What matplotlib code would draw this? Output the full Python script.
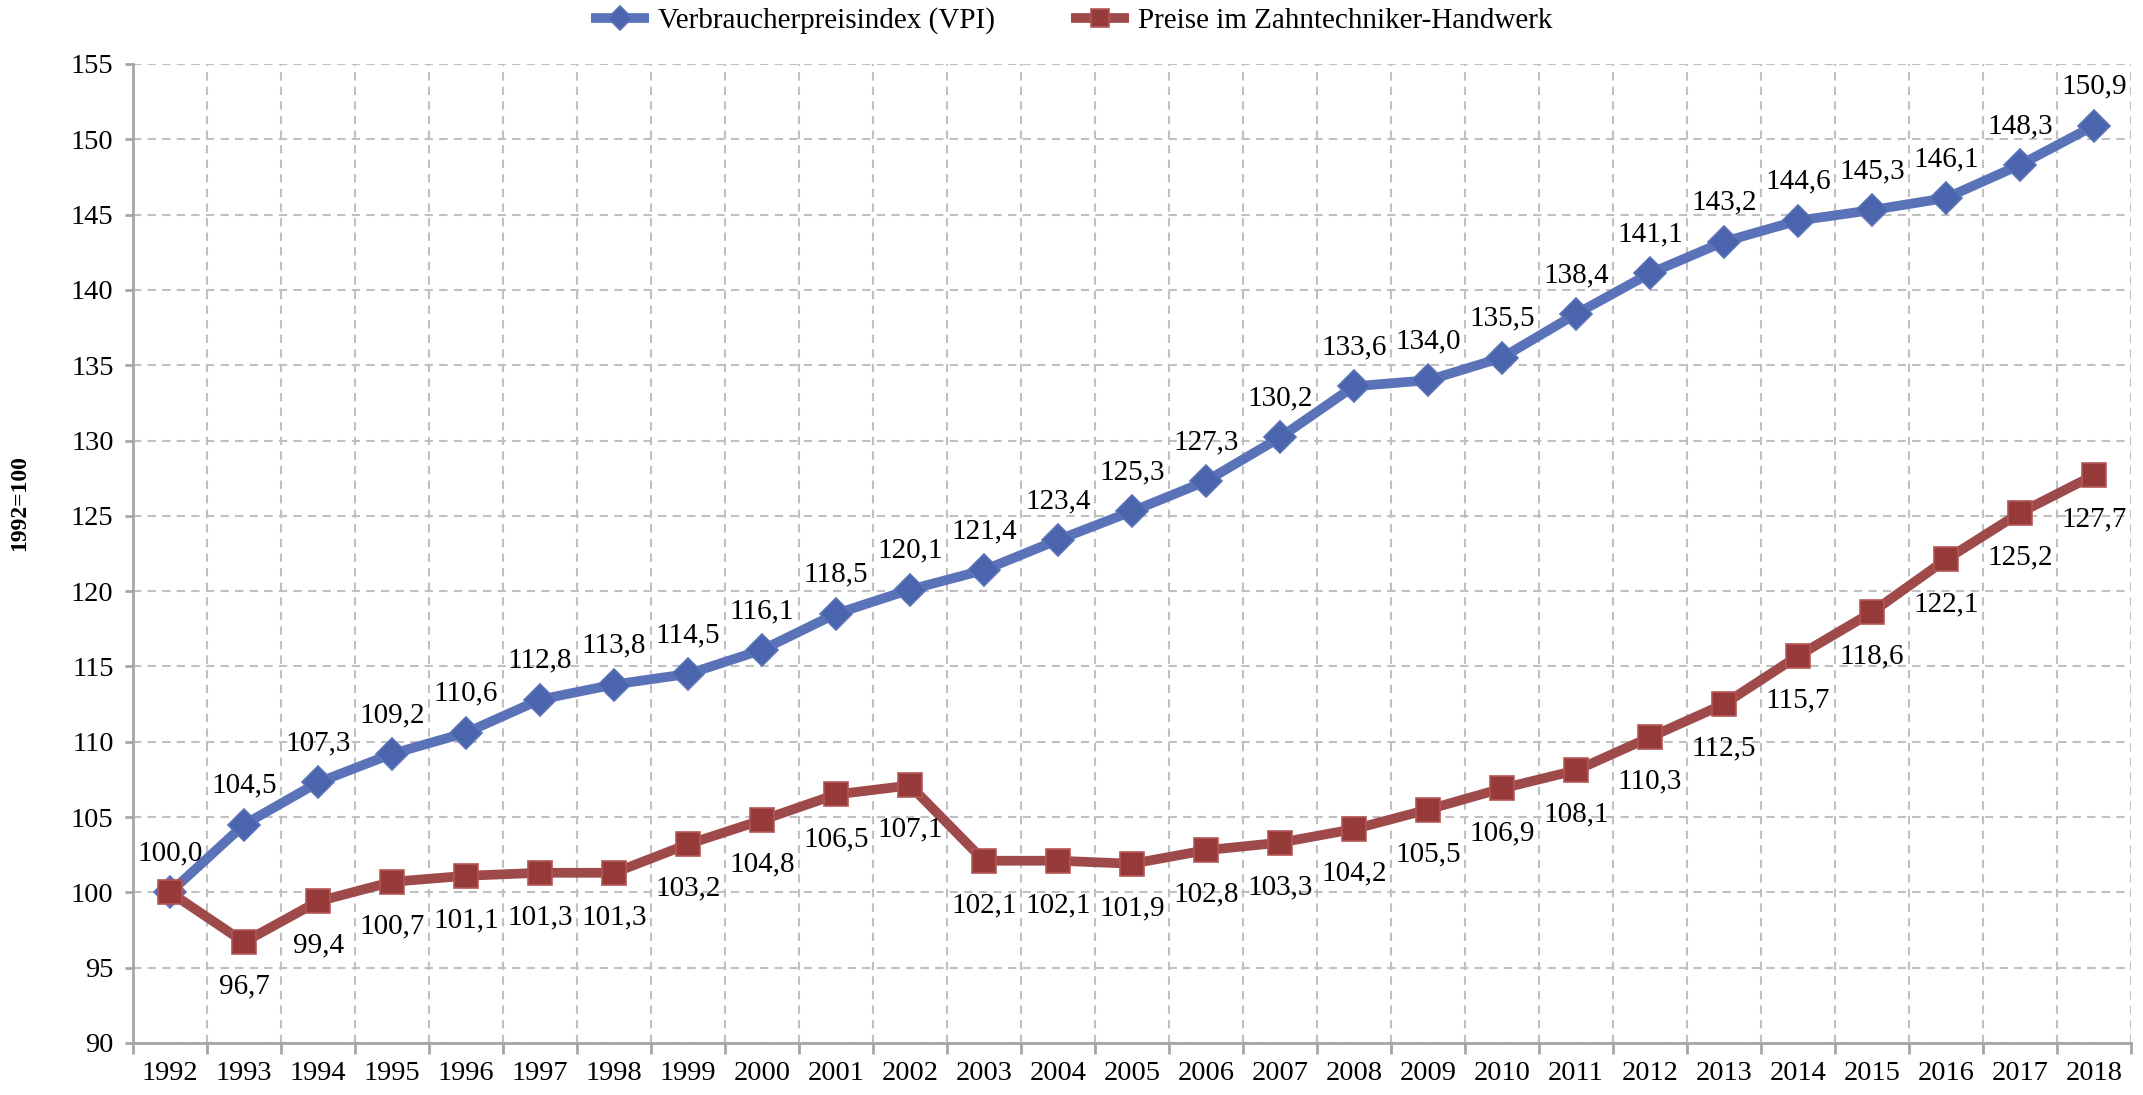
import matplotlib
matplotlib.use("Agg")
import matplotlib.pyplot as plt
import numpy as np

years = [str(y) for y in range(1992, 2019)]
vpi = [100.0, 104.5, 107.3, 109.2, 110.6, 112.8, 113.8, 114.5, 116.1, 118.5, 120.1,
       121.4, 123.4, 125.3, 127.3, 130.2, 133.6, 134.0, 135.5, 138.4, 141.1, 143.2,
       144.6, 145.3, 146.1, 148.3, 150.9]
zahn = [100.0, 96.7, 99.4, 100.7, 101.1, 101.3, 101.3, 103.2, 104.8, 106.5, 107.1,
        102.1, 102.1, 101.9, 102.8, 103.3, 104.2, 105.5, 106.9, 108.1, 110.3, 112.5,
        115.7, 118.6, 122.1, 125.2, 127.7]
series_names = ["Verbraucherpreisindex (VPI)", "Preise im Zahntechniker-Handwerk"]
y_ticks = list(range(90, 156, 5))
y_label = "1992=100"

plt.rcParams['font.family'] = ['Liberation Serif', 'DejaVu Serif']

fig = plt.figure(figsize=(21.43, 10.95), dpi=100)
ax = fig.add_axes([0.0621, 0.0475, 0.9323, 0.8941])

x = np.arange(len(years))
blue_line = '#5A72B8'
blue_mark = '#4A64AE'
red_line = '#9E4A4A'
red_mark = '#973A3A'

ax.plot(x, vpi, color=blue_line, lw=7, marker='D', ms=16, mfc=blue_mark,
        mec='#5A72B8', mew=1.2, label=series_names[0], zorder=3, solid_capstyle='butt')
ax.plot(x, zahn, color=red_line, lw=7, marker='s', ms=17, mfc=red_mark,
        mec='#B35656', mew=1.2, label=series_names[1], zorder=4, solid_capstyle='butt')

fs_lab = 21
for i, v in enumerate(vpi):
    ax.annotate(f"{v:.1f}".replace('.', ','), (x[i], v), xytext=(0, 28),
                textcoords='offset points', ha='center', va='center', fontsize=fs_lab, zorder=6)
for i, v in enumerate(zahn):
    if i == 0:
        continue
    ax.annotate(f"{v:.1f}".replace('.', ','), (x[i], v), xytext=(0, -32),
                textcoords='offset points', ha='center', va='center', fontsize=fs_lab, zorder=6)

ax.set_xlim(-0.5, len(years) - 0.5)
ax.set_ylim(90, 155)
ax.set_yticks(y_ticks)
ax.set_yticklabels([str(t) for t in y_ticks], fontsize=20.5)
ax.set_xticks(x)
ax.set_xticklabels(years, fontsize=20.5)
ax.tick_params(axis='x', length=0, pad=13)
ax.tick_params(axis='y', length=6, width=2, color='#A6A6A6', pad=8)

bounds = np.arange(-0.5, len(years), 1.0)
for b in bounds:
    ax.axvline(b, color='#C0C0C0', lw=1.5, ls=(0, (4, 3)), zorder=1)
for t in y_ticks:
    ax.axhline(t, color='#C0C0C0', lw=1.5, ls=(0, (4, 3)), zorder=1)
ax.set_xticks(bounds, minor=True)
ax.tick_params(axis='x', which='minor', length=8, width=2, color='#A6A6A6', direction='out')

for s in ['top', 'right']:
    ax.spines[s].set_visible(False)
for s in ['left', 'bottom']:
    ax.spines[s].set_color('#A6A6A6')
    ax.spines[s].set_linewidth(2)
    ax.spines[s].set_zorder(2)

fig.text(0.0093, 0.541, y_label, rotation=90, ha='center', va='center',
         fontsize=17, fontweight='bold')

leg = fig.legend(loc='center', bbox_to_anchor=(0.5, 0.981), ncol=2, frameon=False,
                 fontsize=21, handlelength=2.0, columnspacing=2.6, handletextpad=0.3,
                 markerscale=0.75)

fig.savefig('out.png', dpi=100)
